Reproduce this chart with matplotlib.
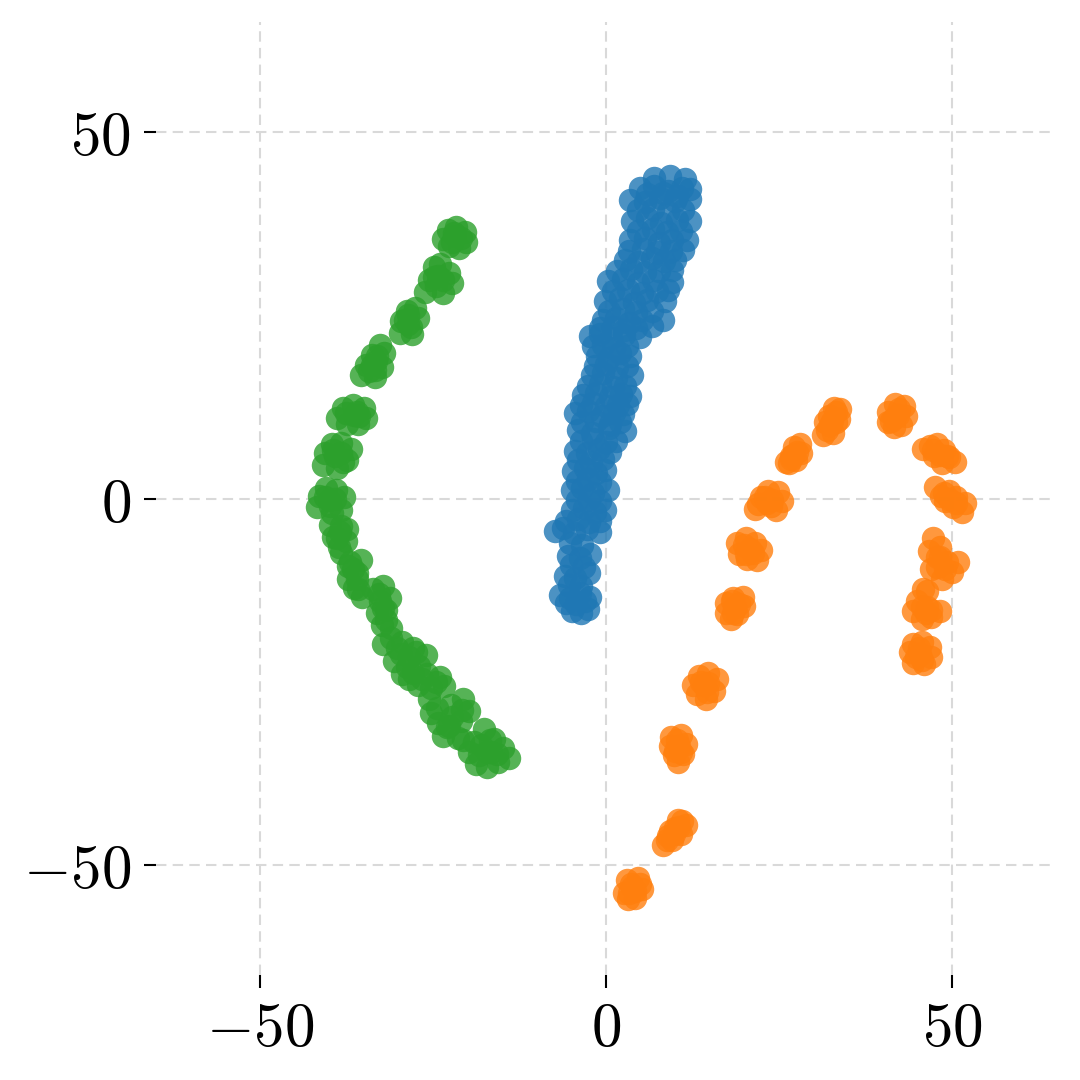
import numpy as np
import matplotlib
matplotlib.use("Agg")
import matplotlib.pyplot as plt

plt.rcParams['mathtext.fontset'] = 'cm'

# embedding coordinates, one list per cluster
blue_x = [-4.9, -3.6, -2.6,
          -6.6, -5.2, -3.8, -2.3,
          -5.9, -4.4, -2.4,
          -5.5, -3.8, -2.3,
          -7.4, -6.2, -4.6, -2.8, -0.9,
          -4.9, -3.2, -1.6, -0.1,
          -4.9, -3.4, -1.8, 0.3,
          -4.8, -3.0, -1.4, -0.1,
          -4.5, -2.8, -1.0, 0.6,
          -4.0, -2.0, 0.4, 2.7,
          -4.5, -2.6, -0.6, 1.2, 2.5,
          -3.3, -1.4, 0.6, 2.2, 3.5,
          -2.0, -0.4, 1.4, 3.8,
          -1.3, 0.4, 2.0, 3.5,
          -2.3, -0.9, 0.8, 2.6, 4.9,
          -0.4, 1.4, 3.4, 5.2, 8.2,
          -0.1, 2.0, 4.0, 6.0, 8.5,
          0.3, 2.4, 4.6, 6.8, 9.5,
          2.7, 4.6, 6.6, 8.4, 10.0,
          3.5, 5.6, 7.6, 9.6, 11.7,
          3.8, 6.0, 8.0, 10.2, 12.1,
          3.5, 5.6, 7.8, 10.0, 12.1,
          4.9, 7.0, 9.0, 11.0, 12.1,
          7.0, 9.2, 11.4,
          # in-between rows
          -5.8, -4.3, -3.0,
          -5.4, -3.6,
          -5.0, -3.2,
          -5.2, -3.4,
          -5.8, -4.0, -2.4, -0.8,
          -4.2, -2.4, -0.9,
          -4.2, -2.6, -0.8,
          -4.0, -2.2, -0.4,
          -3.6, -1.8, 0.0, 1.4,
          -3.4, -1.4, 0.6, 2.0,
          -3.6, -1.8, 0.0, 1.8, 3.0,
          -2.6, -0.8, 1.0, 2.8,
          -1.6, 0.0, 1.6, 3.0,
          -1.8, -0.4, 1.2, 3.0,
          -0.8, 1.0, 2.6, 4.4, 6.6,
          0.4, 2.4, 4.4, 6.6,
          1.0, 3.2, 5.2, 7.4, 9.0,
          1.6, 3.6, 5.6, 7.6, 9.6,
          3.4, 5.4, 7.4, 9.4, 11.2,
          4.6, 6.8, 8.8, 10.8,
          4.6, 6.8, 9.0, 11.2,
          6.0, 8.2, 10.2]
blue_y = [-15.3, -15.6, -15.1,
          -13.2, -13.6, -12.9, -13.4,
          -10.5, -10.8, -10.2,
          -7.8, -8.1, -7.6,
          -4.4, -4.0, -4.7, -4.2, -4.5,
          -1.6, -1.3, -1.9, -1.5,
          1.1, 1.4, 0.8, 1.2,
          3.8, 4.1, 3.5, 3.9,
          6.5, 6.2, 6.8, 6.4,
          9.3, 9.0, 9.6, 9.2,
          11.6, 11.9, 11.3, 11.7, 11.5,
          14.1, 14.4, 13.8, 14.2, 14.0,
          16.8, 17.1, 16.5, 16.9,
          19.5, 19.2, 19.8, 19.4,
          22.2, 22.5, 21.9, 22.3, 22.0,
          24.3, 24.6, 24.0, 24.4, 24.3,
          27.0, 27.3, 26.7, 27.1, 26.9,
          29.7, 30.0, 29.4, 29.8, 29.6,
          32.5, 32.2, 32.8, 32.4, 32.6,
          35.2, 35.5, 34.9, 35.3, 35.2,
          37.9, 38.2, 37.6, 38.0, 37.8,
          40.7, 40.4, 41.0, 40.6, 40.8,
          42.3, 42.6, 42.0, 42.4, 42.2,
          43.7, 44.0, 43.6,
          # in-between rows
          -14.2, -14.4, -14.0,
          -11.8, -12.0,
          -9.1, -9.3,
          -6.1, -6.3,
          -3.0, -2.8, -3.2, -3.0,
          -0.2, 0.0, -0.4,
          2.4, 2.6, 2.2,
          5.2, 5.0, 5.4,
          7.9, 8.1, 7.7, 7.9,
          10.4, 10.6, 10.2, 10.4,
          12.8, 13.0, 12.6, 12.8, 12.9,
          15.4, 15.6, 15.2, 15.4,
          18.1, 18.3, 17.9, 18.1,
          20.8, 21.0, 20.6, 20.8,
          23.2, 23.4, 23.0, 23.2, 23.6,
          25.6, 25.8, 25.4, 25.6,
          28.3, 28.5, 28.1, 28.3, 28.4,
          31.1, 31.3, 30.9, 31.1, 31.2,
          33.8, 34.0, 33.6, 33.8, 33.9,
          36.5, 36.7, 36.3, 36.5,
          39.3, 39.5, 39.1, 39.3,
          41.5, 41.7, 41.3]

orange_x = [3.0, 4.6, 5.2, 4.2, 2.6, 3.8, 3.2, 4.9, 3.6, 4.2, 3.4,
            8.2, 9.0, 10.0, 11.0, 11.6, 10.8, 9.6, 10.4, 9.2, 9.8, 10.6, 8.8,
            9.4, 10.8, 11.6, 11.2, 10.4, 9.8, 9.3, 10.5, 10.2, 10.8, 10.0,
            12.6, 13.4, 14.8, 16.0, 15.6, 14.4, 13.2, 14.2, 13.8, 14.8, 14.6,
            17.4, 18.4, 19.8, 20.0, 19.0, 18.0, 17.3, 18.6, 18.2, 19.2, 18.4,
            19.0, 20.2, 21.6, 22.4, 21.8, 20.4, 19.2, 20.8, 20.0, 21.2, 20.2,
            21.6, 22.4, 23.4, 24.8, 25.5, 24.6, 23.2, 22.0, 23.0, 24.0, 23.8,
            26.0, 26.8, 27.2, 28.0, 28.2, 27.4, 26.4, 27.0, 27.6, 26.8,
            31.4, 32.0, 32.6, 33.2, 33.8, 33.6, 32.8, 31.6, 33.0, 32.4, 32.2, 33.2,
            40.8, 40.8, 41.8, 43.0, 43.4, 42.6, 41.6, 42.2, 41.6, 42.4, 41.2,
            45.8, 46.8, 47.8, 48.8, 49.6, 50.4, 48.6, 47.4, 47.2, 48.2, 49.2,
            47.6, 48.4, 49.6, 50.6, 51.8, 51.4, 50.2, 49.0, 49.6, 50.6, 48.8,
            47.2, 46.6, 47.8, 49.2, 50.8, 50.0, 48.6, 47.0, 48.2, 48.2, 49.0, 47.8,
            46.4, 45.0, 44.4, 45.6, 47.0, 48.2, 46.4, 45.8, 46.2, 45.6, 47.0,
            44.4, 45.6, 46.8, 47.0, 46.0, 44.4, 43.9, 45.4, 45.2, 45.6, 44.8]
orange_y = [-52.0, -51.8, -53.2, -54.5, -53.8, -53.0, -54.6, -52.6, -52.6, -53.6, -53.8,
            -47.2, -46.0, -45.0, -44.0, -44.6, -45.8, -46.6, -43.8, -45.4, -45.8, -44.8, -46.6,
            -32.5, -32.2, -33.5, -34.8, -36.0, -35.0, -33.8, -33.8, -33.0, -34.6, -34.4,
            -25.5, -24.2, -23.8, -24.6, -26.2, -27.4, -26.6, -25.4, -25.0, -25.2, -26.4,
            -14.2, -13.6, -13.4, -14.6, -15.8, -16.4, -15.6, -14.8, -14.0, -14.4, -15.6,
            -6.0, -5.4, -6.0, -7.0, -8.4, -8.2, -7.6, -6.9, -6.4, -7.4, -7.6,
            -1.4, 0.2, 1.0, 0.9, -0.4, -1.5, -0.6, -0.8, 0.2, -0.2, -1.0,
            5.0, 5.8, 7.0, 7.5, 6.2, 5.2, 4.9, 6.0, 6.4, 5.4,
            8.6, 9.4, 10.6, 11.8, 12.2, 10.8, 9.0, 10.4, 12.3, 10.0, 11.2, 10.4,
            10.4, 11.8, 12.9, 12.6, 11.2, 10.0, 9.8, 11.4, 11.0, 12.2, 10.6,
            6.8, 7.2, 7.4, 6.6, 5.6, 5.0, 4.9, 5.8, 6.6, 6.0, 5.8,
            1.6, 0.4, 1.0, 0.2, -0.6, -1.9, -1.2, -0.4, 0.0, -0.6, 0.8,
            -5.4, -7.2, -8.0, -8.6, -8.6, -10.0, -11.0, -9.6, -6.6, -8.0, -9.6, -9.4,
            -12.6, -14.0, -15.4, -16.4, -16.2, -15.4, -14.8, -12.3, -15.6, -14.8, -15.2,
            -19.8, -19.6, -20.2, -21.6, -22.6, -22.4, -21.0, -21.2, -20.4, -22.0, -21.6]

green_x = [-23.6, -22.8, -21.6, -20.4, -20.2, -21.2, -22.6, -21.8, -22.0, -21.0, -22.2,
           -26.2, -25.6, -24.8, -24.0, -22.6, -22.2, -23.6, -24.6, -24.2, -23.6, -24.8,
           -29.8, -29.6, -28.8, -27.6, -27.2, -28.0, -28.6, -28.6, -28.2, -29.0,
           -35.4, -34.6, -33.8, -32.6, -32.0, -32.4, -33.4, -34.2, -33.2, -33.8, -33.0, -33.4,
           -38.8, -38.0, -36.6, -35.0, -34.6, -35.8, -37.4, -36.4, -37.6, -36.0, -35.6,
           -40.8, -40.6, -39.6, -38.2, -36.8, -37.4, -38.8, -39.2, -39.4, -38.2, -38.0,
           -41.8, -41.4, -40.4, -39.0, -37.8, -38.2, -39.6, -40.0, -40.6, -39.2, -39.8,
           -39.8, -39.4, -38.6, -37.6, -37.4, -38.4, -38.8, -38.2,
           -38.2, -37.0, -35.4, -36.0, -37.2, -36.4, -35.2, -36.6, -37.2, -36.0, -35.8,
           -33.6, -32.2, -31.2, -31.8, -33.0, -32.4, -31.0, -32.6, -32.8, -32.2, -31.8,
           -32.2, -31.0, -29.4, -27.8, -26.0, -27.0, -28.8, -30.6, -29.6, -30.2, -28.4, -27.4,
           -29.4, -27.8, -25.8, -24.0, -23.4, -25.2, -27.2, -26.6, -24.6, -28.4,
           -25.6, -25.2, -24.2, -22.6, -21.0, -19.8, -20.6, -22.4, -23.6, -21.4,
           -24.4, -22.2, -23.0, -20.8,
           -20.6, -19.8, -18.8, -17.2, -15.6, -14.0, -14.8, -16.2, -17.6, -18.0, -16.6,
           -19.0, -17.2, -15.8, -16.8, -18.4]
green_y = [35.4, 36.6, 37.1, 36.4, 35.0, 34.2, 34.4, 35.8, 36.2, 35.6, 35.0,
           28.2, 29.8, 31.6, 32.0, 30.8, 29.4, 28.0, 29.0, 30.4, 29.8, 30.2,
           22.6, 24.2, 25.6, 26.0, 24.6, 22.4, 23.8, 25.0, 23.4, 24.4,
           16.8, 18.2, 19.6, 21.0, 19.8, 18.0, 16.6, 17.4, 18.8, 18.2, 19.4, 17.6,
           11.0, 12.4, 12.8, 12.4, 11.0, 10.2, 10.2, 11.4, 11.6, 11.8, 11.2,
           4.6, 6.2, 7.4, 7.6, 6.8, 5.2, 4.2, 5.8, 6.6, 6.2, 5.0,
           -1.2, 0.4, 1.4, 1.2, 0.2, -1.6, -2.0, -0.2, 0.2, 0.0, -1.0,
           -3.6, -5.2, -6.6, -5.8, -4.2, -4.6, -5.4, -3.8,
           -7.4, -8.6, -8.4, -10.2, -11.0, -12.2, -13.4, -9.6, -9.2, -11.0, -12.4,
           -12.4, -12.0, -13.6, -15.2, -15.6, -17.2, -17.6, -14.0, -13.0, -15.0, -16.6,
           -19.8, -19.0, -19.6, -20.4, -21.4, -22.8, -23.0, -22.2, -21.2, -20.4, -21.6, -21.0,
           -24.0, -23.8, -24.0, -24.4, -25.6, -25.8, -25.4, -24.6, -25.0, -24.6,
           -27.4, -29.2, -30.6, -31.0, -30.4, -29.0, -27.4, -28.2, -32.4, -32.6,
           -28.6, -29.8, -31.2, -28.8,
           -33.0, -34.6, -36.2, -36.6, -36.0, -35.4, -34.0, -32.8, -31.4, -33.6, -34.6,
           -33.2, -34.6, -34.8, -33.0, -35.0]

tick_vals = [-50, 0, 50]
tick_text = [r'$-50$', r'$0$', r'$50$']

fig = plt.figure(figsize=(10.8, 10.8), dpi=100)
ax = fig.add_axes([0.1444, 0.0972, 0.8333, 0.8824])

for xs, ys, c in [(blue_x, blue_y, '#1f77b4'),
                  (orange_x, orange_y, '#ff7f0e'),
                  (green_x, green_y, '#2ca02c')]:
    ax.scatter(xs, ys, s=285, color=c, alpha=0.8, linewidths=0, zorder=3)

ax.set_xlim(-65, 65)
ax.set_ylim(-65, 65)
ax.set_xticks(tick_vals)
ax.set_xticklabels(tick_text)
ax.set_yticks(tick_vals)
ax.set_yticklabels(tick_text)
ax.tick_params(labelsize=44, length=9, width=1.5, pad=9)

for sp in ax.spines.values():
    sp.set_visible(False)
ax.grid(True, color='#d9d9d9', linestyle=(0, (5, 3)), linewidth=1.5, zorder=0)
ax.set_axisbelow(True)

fig.savefig("out.png", dpi=100)
